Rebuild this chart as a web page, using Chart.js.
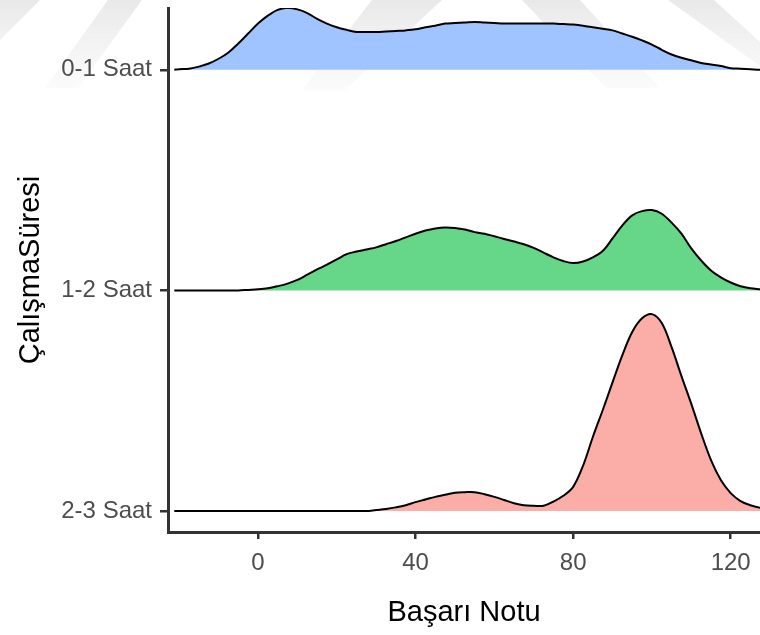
<!DOCTYPE html>
<html>
<head>
<meta charset="utf-8">
<script src="https://cdn.jsdelivr.net/npm/chart.js@4.4.1/dist/chart.umd.min.js"></script>
<style>
  html, body { margin: 0; padding: 0; background: #ffffff; }
  #wrap { width: 760px; height: 635px; }
</style>
</head>
<body>
<div id="wrap"><canvas id="c" width="760" height="635"></canvas></div>
<script>
// ---- data ----
const scores = [-21.25, -20, -17.5, -15, -12.5, -10, -7.5, -5, -2.5, 0, 2.5, 5, 7.5, 10, 12.5, 15, 17.5, 20, 22.5, 25, 27.5, 30, 32.5, 35, 37.5, 40, 42.5, 45, 47.5, 50, 52.5, 55, 57.5, 60, 62.5, 65, 67.5, 70, 72.5, 75, 77.5, 80, 82.5, 85, 87.5, 90, 92.5, 95, 97.5, 100, 102.5, 105, 107.5, 110, 112.5, 115, 117.5, 120, 122.5, 125, 127.5, 130];
const groups = ['2-3 Saat', '1-2 Saat', '0-1 Saat'];
const dens01 = [0, 0.0001, 0.0002, 0.0006, 0.0012, 0.0021, 0.0033, 0.0050, 0.0069, 0.0088, 0.0103, 0.0114, 0.0118, 0.0115, 0.0108, 0.0097, 0.0088, 0.0081, 0.0076, 0.0072, 0.0072, 0.0072, 0.0073, 0.0074, 0.0075, 0.0077, 0.0081, 0.0084, 0.0088, 0.0089, 0.0090, 0.0091, 0.0090, 0.0089, 0.0088, 0.0088, 0.0088, 0.0088, 0.0088, 0.0088, 0.0087, 0.0086, 0.0084, 0.0081, 0.0078, 0.0075, 0.0069, 0.0063, 0.0056, 0.0048, 0.0038, 0.0029, 0.0023, 0.0018, 0.0013, 0.0010, 0.0007, 0.0003, 0.0002, 0.0001, 0, 0];
const dens12 = [0, 0, 0, 0, 0, 0, 0, 0, 0.0001, 0.0002, 0.0004, 0.0008, 0.0013, 0.0020, 0.0030, 0.0040, 0.0049, 0.0059, 0.0069, 0.0074, 0.0078, 0.0082, 0.0088, 0.0094, 0.0101, 0.0108, 0.0114, 0.0118, 0.0120, 0.0119, 0.0116, 0.0111, 0.0108, 0.0103, 0.0098, 0.0093, 0.0088, 0.0081, 0.0072, 0.0063, 0.0056, 0.0052, 0.0055, 0.0063, 0.0075, 0.0099, 0.0124, 0.0143, 0.0151, 0.0153, 0.0146, 0.0129, 0.0108, 0.0080, 0.0057, 0.0038, 0.0025, 0.0015, 0.0008, 0.0004, 0.0002, 0];
const dens23 = [0, 0, 0, 0, 0, 0, 0, 0, 0, 0, 0, 0, 0, 0, 0, 0, 0, 0, 0, 0, 0, 0.0002, 0.0004, 0.0007, 0.0011, 0.0017, 0.0022, 0.0027, 0.0031, 0.0035, 0.0036, 0.0036, 0.0032, 0.0027, 0.0021, 0.0015, 0.0011, 0.0010, 0.0010, 0.0018, 0.0029, 0.0046, 0.0086, 0.0141, 0.0192, 0.0245, 0.0297, 0.0341, 0.0367, 0.0375, 0.0358, 0.0312, 0.0257, 0.0204, 0.0148, 0.0097, 0.0059, 0.0034, 0.0019, 0.0011, 0.0006, 0.0003];
const xTicks = [0, 40, 80, 120];
const rowTicks = [0, 1, 2];
const ridgeScale = 23.8;

const FONT = 'Liberation Sans, Arial, sans-serif';
const densities = [dens23, dens12, dens01];
const fills = ['#FBADA7', '#66D688', '#A0C4FF'];

const datasets = densities.map((d, i) => ({
  label: groups[i],
  data: scores.map((s, j) => ({ x: s, y: i + d[j] * ridgeScale })),
  fill: { value: i },
  backgroundColor: fills[i],
  borderColor: '#000000',
  borderWidth: 2,
  pointRadius: 0,
  tension: 0.35,
  order: i
}));

// faint diagonal watermark bands in the page background
const watermark = {
  id: 'watermark',
  beforeDraw(chart) {
    const ctx = chart.ctx;
    const g = ctx.createLinearGradient(0, 0, 0, 95);
    g.addColorStop(0, 'rgba(225,225,225,0.75)');
    g.addColorStop(1, 'rgba(235,235,235,0.15)');
    const bands = [
      [[0, 0], [40, 0], [0, 40]],
      [[45, 88], [78, 88], [142, 0], [108, 0]],
      [[302, 90], [345, 90], [442, 0], [372, 0]],
      [[522, 0], [580, 0], [660, 88], [606, 88]],
      [[668, 0], [714, 0], [760, 42], [760, 66]]
    ];
    ctx.save();
    ctx.fillStyle = g;
    bands.forEach(b => {
      ctx.beginPath();
      ctx.moveTo(b[0][0], b[0][1]);
      for (let k = 1; k < b.length; k++) ctx.lineTo(b[k][0], b[k][1]);
      ctx.closePath();
      ctx.fill();
    });
    ctx.restore();
  }
};

new Chart(document.getElementById('c'), {
  type: 'line',
  data: { datasets },
  plugins: [watermark],
  options: {
    responsive: false,
    devicePixelRatio: 1,
    animation: false,
    layout: { padding: { top: 8, left: 0, right: 0, bottom: 0 } },
    plugins: { legend: { display: false }, tooltip: { enabled: false } },
    scales: {
      x: {
        type: 'linear',
        min: -22.85,
        max: 127.44,
        afterBuildTicks: s => { s.ticks = xTicks.map(v => ({ value: v })); },
        afterFit: s => { s.height = 103; s.paddingLeft = 0; s.paddingRight = 0; },
        grid: { display: true, drawOnChartArea: false, drawTicks: true, tickLength: 7, color: '#333333', lineWidth: 2.5 },
        border: { display: true, color: '#333333', width: 3 },
        ticks: { color: '#4D4D4D', font: { family: FONT, size: 24 }, padding: 10, maxRotation: 0, autoSkip: false },
        title: { display: true, text: 'Başarı Notu', color: '#000000', font: { family: FONT, size: 29 }, padding: { top: 0, bottom: 5 } }
      },
      y: {
        type: 'linear',
        min: -0.095,
        max: 2.28,
        afterBuildTicks: s => { s.ticks = rowTicks.map(v => ({ value: v })); },
        afterFit: s => { s.width = 168; s.paddingTop = 0; s.paddingBottom = 0; },
        grid: { display: true, drawOnChartArea: false, drawTicks: true, tickLength: 8, color: '#333333', lineWidth: 2.5 },
        border: { display: true, color: '#333333', width: 3 },
        ticks: { color: '#4D4D4D', font: { family: FONT, size: 24 }, padding: 8, autoSkip: false, callback: v => groups[v] },
        title: { display: true, text: 'ÇalışmaSüresi', color: '#000000', font: { family: FONT, size: 29 }, padding: { top: 14, bottom: 0 } }
      }
    }
  }
});
</script>
</body>
</html>
